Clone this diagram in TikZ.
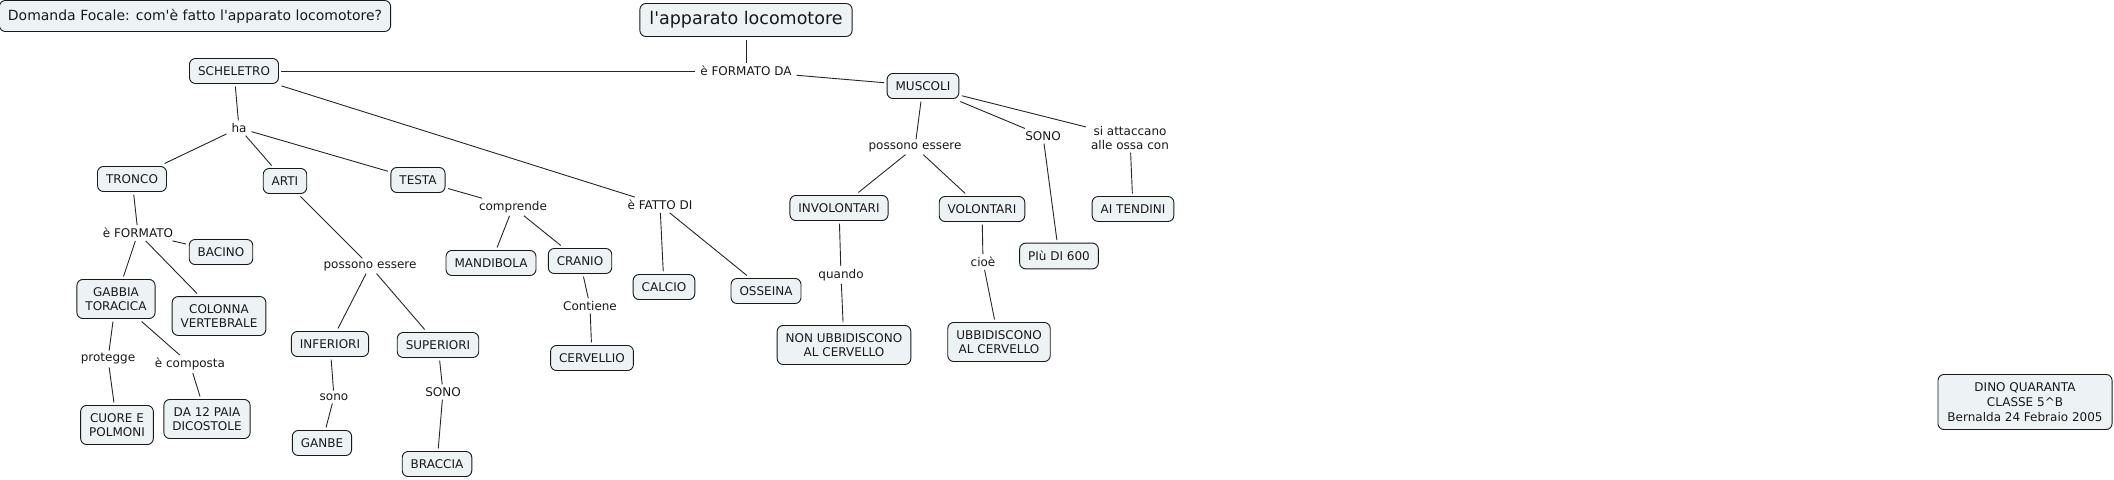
\documentclass[tikz,border=0pt]{standalone}
\usepackage{fontspec}
\setmainfont{DejaVu Sans}[Ligatures=TeXOff]
\usepackage{xcolor}
\usetikzlibrary{positioning}
\definecolor{conceptfill}{HTML}{EDF3F5}
\definecolor{linkgray}{HTML}{262626}

\begin{document}
\begin{tikzpicture}[x=1pt,y=-1pt,font=\fontsize{12}{14}\selectfont,text=black!90]
  \tikzstyle{concept}=[draw=black!90,fill=conceptfill,rounded corners=6pt,align=center,
    inner xsep=8.5pt,inner ysep=8pt,minimum height=25pt,outer sep=3pt,line width=0.9pt]
  \tikzstyle{link}=[align=center,inner xsep=4pt,inner ysep=2pt,outer sep=1pt]
  \tikzstyle{every edge}=[draw=linkgray,line width=0.9pt]

  \useasboundingbox (0,0) rectangle (2114,479);

  % focus question and root
  \node[concept,font=\fontsize{14}{16}\selectfont,minimum height=31pt] (c_domanda) at (195,16) {Domanda Focale: com'è fatto l'apparato locomotore?};
  \node[concept,font=\fontsize{17.5}{20}\selectfont,inner xsep=9.5pt,minimum height=33pt] (c_apparato) at (746,20) {l'apparato locomotore};
  \node[link] (l_formatoda) at (746,71) {è FORMATO DA};

  % scheletro
  \node[concept] (c_scheletro)  at (234,71)  {SCHELETRO};
  \node[link]    (l_ha)         at (239,128) {ha};
  \node[concept] (c_tronco)     at (132,179) {TRONCO};
  \node[concept] (c_arti)       at (285,181) {ARTI};
  \node[concept] (c_testa)      at (418,180) {TESTA};
  \node[link]    (l_fattodi)    at (660,205) {è FATTO DI};
  \node[concept] (c_calcio)     at (664,287) {CALCIO};
  \node[concept] (c_osseina)    at (766,291) {OSSEINA};

  % tronco
  \node[link]    (l_formato)    at (138,233) {è FORMATO};
  \node[concept] (c_bacino)     at (221,252) {BACINO};
  \node[concept] (c_gabbia)     at (116,299) {GABBIA\\TORACICA};
  \node[concept] (c_colonna)    at (219,316) {COLONNA\\VERTEBRALE};
  \node[link]    (l_protegge)   at (108,359) {protegge};
  \node[link]    (l_composta)   at (190,364) {è composta};
  \node[concept] (c_cuore)      at (117,425) {CUORE E\\POLMONI};
  \node[concept] (c_paia)       at (207,419) {DA 12 PAIA\\DICOSTOLE};

  % arti
  \node[link]    (l_possarti)   at (370,266) {possono essere};
  \node[concept] (c_inferiori)  at (330,344) {INFERIORI};
  \node[concept] (c_superiori)  at (438,345) {SUPERIORI};
  \node[link]    (l_sono)       at (334,397) {sono};
  \node[concept] (c_ganbe)      at (322,443) {GANBE};
  \node[link]    (l_sonosup)    at (443,392) {SONO};
  \node[concept] (c_braccia)    at (437,464) {BRACCIA};

  % testa
  \node[link]    (l_comprende)  at (513,207) {comprende};
  \node[concept] (c_mandibola)  at (491,263) {MANDIBOLA};
  \node[concept] (c_cranio)     at (580,261) {CRANIO};
  \node[link]    (l_contiene)   at (590,306) {Contiene};
  \node[concept] (c_cervellio)  at (592,358) {CERVELLIO};

  % muscoli
  \node[concept] (c_muscoli)    at (923,86)  {MUSCOLI};
  \node[link]    (l_possmusc)   at (915,147) {possono essere};
  \node[concept] (c_involontari) at (839,208) {INVOLONTARI};
  \node[concept] (c_volontari)  at (982,209) {VOLONTARI};
  \node[link]    (l_quando)     at (841,275) {quando};
  \node[concept] (c_nonubb)     at (844,345) {NON UBBIDISCONO\\AL CERVELLO};
  \node[link]    (l_cioe)       at (983,262) {cioè};
  \node[concept] (c_ubb)        at (999,342) {UBBIDISCONO\\AL CERVELLO};
  \node[link]    (l_sonomusc)   at (1043,136) {SONO};
  \node[concept] (c_piu)        at (1059,256) {PIù DI 600};
  \node[link]    (l_attaccano)  at (1130,138) {si attaccano\\alle ossa con};
  \node[concept] (c_tendini)    at (1133,209) {AI TENDINI};

  \node[concept,font=\fontsize{12}{15}\selectfont,inner xsep=9.5pt] (c_dino) at (2025,402) {DINO QUARANTA\\CLASSE 5\textasciicircum B\\Bernalda 24 Febraio 2005};

  \path
  (c_apparato)    edge (l_formatoda)
  (l_formatoda)   edge (c_scheletro)
  (l_formatoda)   edge (c_muscoli)
  (c_scheletro)   edge (l_ha)
  (l_ha)          edge (c_tronco)
  (l_ha)          edge (c_arti)
  (l_ha)          edge (c_testa)
  (c_scheletro)   edge (l_fattodi)
  (l_fattodi)     edge (c_calcio)
  (l_fattodi)     edge (c_osseina)
  (c_tronco)      edge (l_formato)
  (l_formato)     edge (c_bacino)
  (l_formato)     edge (c_gabbia)
  (l_formato)     edge (c_colonna)
  (c_gabbia)      edge (l_protegge)
  (l_protegge)    edge (c_cuore)
  (c_gabbia)      edge (l_composta)
  (l_composta)    edge (c_paia)
  (c_arti)        edge (l_possarti)
  (l_possarti)    edge (c_inferiori)
  (l_possarti)    edge (c_superiori)
  (c_inferiori)   edge (l_sono)
  (l_sono)        edge (c_ganbe)
  (c_superiori)   edge (l_sonosup)
  (l_sonosup)     edge (c_braccia)
  (c_testa)       edge (l_comprende)
  (l_comprende)   edge (c_mandibola)
  (l_comprende)   edge (c_cranio)
  (c_cranio)      edge (l_contiene)
  (l_contiene)    edge (c_cervellio)
  (c_muscoli)     edge (l_possmusc)
  (l_possmusc)    edge (c_involontari)
  (l_possmusc)    edge (c_volontari)
  (c_involontari) edge (l_quando)
  (l_quando)      edge (c_nonubb)
  (c_volontari)   edge (l_cioe)
  (l_cioe)        edge (c_ubb)
  (c_muscoli)     edge (l_sonomusc)
  (l_sonomusc)    edge (c_piu)
  (c_muscoli)     edge (l_attaccano)
  (l_attaccano)   edge (c_tendini)
  ;
\end{tikzpicture}
\end{document}
